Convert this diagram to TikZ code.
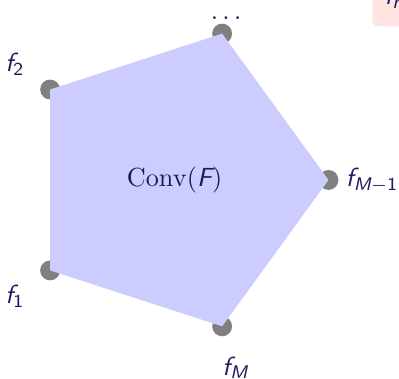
\documentclass[tikz,border=0pt]{standalone}
\usepackage{amsmath}
\usepackage{tikz}
\usetikzlibrary{positioning}
\newcommand{\sfit}[1]{\text{\sffamily\itshape #1}}
\newcommand{\sfup}[1]{\text{\sffamily #1}}
\definecolor{hullblue}{RGB}{204,204,255}
\definecolor{labelnavy}{RGB}{25,25,95}
\definecolor{notepink}{RGB}{255,228,228}

\begin{document}
\begin{tikzpicture}[
    vertex/.style={circle, fill=gray, minimum size=7.6pt, inner sep=0pt},
    ptlabel/.style={text=labelnavy, inner sep=0pt},
    notebox/.style={fill=notepink, rounded corners=2pt, text=labelnavy, anchor=south west, inner xsep=4.6pt, inner ysep=3pt, text depth=5.5pt}
]
    \clip (-2.343,-2.670) rectangle (3.011,2.415);

    % corners of the hull
    \foreach \i/\a in {1/216, 2/144, 3/72, 4/0, 5/288}
        \node[vertex] (v\i) at (\a:2.065) {};
    \fill[hullblue] (v1.center) -- (v2.center) -- (v3.center) -- (v4.center) -- (v5.center) -- cycle;

    \node[ptlabel] (conv) at (0,0) {$\mathrm{Conv}(\sfit{F})$};
    \node[ptlabel] (l1) at (216:2.65) {$\sfit{f}_{\sfup{1}}$};
    \node[ptlabel] (l2) at (144:2.65) {$\sfit{f}_{\sfup{2}}$};
    \node[ptlabel] (l3) at (0.72,2.17) {$\dots$};
    \node[ptlabel] (l4) at (0:2.65) {$\sfit{f}_{\sfit{M}-\sfup{1}}$};
    \node[ptlabel] (l5) at (288:2.65) {$\sfit{f}_{\sfit{M}}$};

    \node[notebox] (note) at (2.648,2.053) {$\sfit{f}_{\sfit{n}}$};
\end{tikzpicture}
\end{document}
